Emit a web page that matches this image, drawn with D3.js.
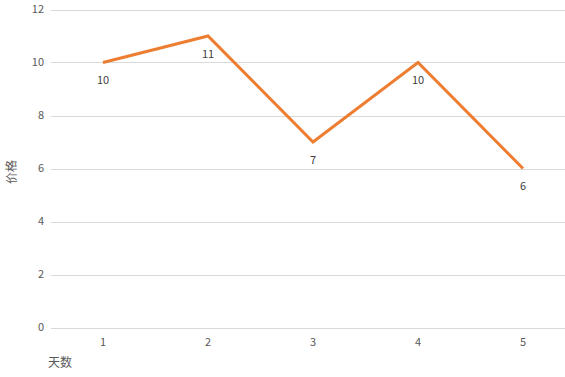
<!DOCTYPE html>
<html><head><meta charset="utf-8">
<script src="https://cdn.jsdelivr.net/npm/d3@7/dist/d3.min.js"></script>
<style>body{margin:0;background:#fff;} text{font-family:"Noto Sans CJK SC","Noto Sans",sans-serif;}</style>
</head><body>
<svg id="c" width="565" height="377"></svg>
<script>
const days = ["1","2","3","4","5"];
const prices = [10, 11, 7, 10, 6];
const yTicks = [0,2,4,6,8,10,12];
const xTitle = "天数";
const yTitle = "价格";

const svg = d3.select("#c");
const x = d3.scaleBand().domain(days).range([50.5, 575.5]);
const y = d3.scaleLinear().domain([0,12]).range([327.5, 9.5]);

svg.append("g").selectAll("line").data(yTicks).join("line")
  .attr("x1", 51).attr("x2", 565)
  .attr("y1", d=>Math.round(y(d))+0.5).attr("y2", d=>Math.round(y(d))+0.5)
  .attr("stroke", "#d9d9d9").attr("stroke-width", 1);

svg.append("g").selectAll("text").data(yTicks).join("text")
  .attr("x", 44).attr("y", d=>y(d)).attr("dy","0.35em")
  .attr("text-anchor","end").attr("font-size", 11).attr("fill","#595959")
  .text(d=>d);

svg.append("g").selectAll("text").data(days).join("text")
  .attr("x", d=>x(d)+x.bandwidth()/2).attr("y", 342).attr("dy","0.35em")
  .attr("text-anchor","middle").attr("font-size", 11).attr("fill","#595959")
  .text(d=>d);

const line = d3.line().x((d,i)=>x(days[i])+x.bandwidth()/2).y(d=>y(d));
svg.append("path").datum(prices).attr("d", line)
  .attr("fill","none").attr("stroke","#ED7D31").attr("stroke-width",3)
  .attr("stroke-linejoin","miter");

svg.append("g").selectAll("text").data(prices).join("text")
  .attr("x", (d,i)=>x(days[i])+x.bandwidth()/2).attr("y", d=>y(d)+18).attr("dy","0.35em")
  .attr("text-anchor","middle").attr("font-size", 11).attr("fill","#404040")
  .text(d=>d);

svg.append("text").attr("x", 48).attr("y", 363).attr("dy","0.35em")
  .attr("font-size", 12).attr("fill","#595959").text(xTitle);

svg.append("text").attr("transform","translate(12,172) rotate(-90)").attr("dy","0.35em")
  .attr("text-anchor","middle").attr("font-size", 12).attr("fill","#595959").text(yTitle);
</script>
</body></html>
